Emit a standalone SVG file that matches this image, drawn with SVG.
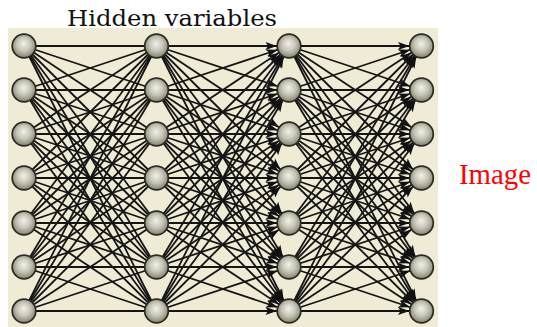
<svg xmlns="http://www.w3.org/2000/svg" width="537" height="327" viewBox="0 0 537 327">
<style>
.bg{fill:#efebd5}
.e{stroke:#151515;stroke-width:1.8;fill:none}
.a{marker-end:url(#arr)}
.n{fill:url(#ball);stroke:#2a2a26;stroke-width:1.7}
.t{font-family:"DejaVu Serif","Liberation Serif",serif}
.r{font-family:"Liberation Serif","DejaVu Serif",serif}
</style>
<defs>
<radialGradient id="ball" cx="50%" cy="45%" r="55%" fx="48%" fy="40%">
<stop offset="0" stop-color="#f2f1ea"/>
<stop offset="0.5" stop-color="#c9c7b8"/>
<stop offset="1" stop-color="#85826f"/>
</radialGradient>
<marker id="arr" markerUnits="userSpaceOnUse" markerWidth="24" markerHeight="8" refX="23.5" refY="4" orient="auto" overflow="visible">
<path d="M0,0 L11.5,4 L0,8 L2.5,4 z" fill="#111"/>
</marker>
</defs>
<rect class="bg" x="8" y="28" width="430" height="299"/>
<text class="t" x="67" y="26" font-size="23" textLength="210" lengthAdjust="spacingAndGlyphs" fill="#111">Hidden variables</text>
<text class="r" x="459" y="184" font-size="29" textLength="72" lengthAdjust="spacingAndGlyphs" fill="#ff0000">Image</text>
<g id="connectors">
<g id="layer1" class="e">
<line x1="24" y1="46" x2="156.5" y2="46"/><line x1="24" y1="46" x2="156.5" y2="90"/><line x1="24" y1="46" x2="156.5" y2="134"/><line x1="24" y1="46" x2="156.5" y2="178"/><line x1="24" y1="46" x2="156.5" y2="223"/><line x1="24" y1="46" x2="156.5" y2="267"/><line x1="24" y1="46" x2="156.5" y2="311"/>
<line x1="24" y1="90" x2="156.5" y2="46"/><line x1="24" y1="90" x2="156.5" y2="90"/><line x1="24" y1="90" x2="156.5" y2="134"/><line x1="24" y1="90" x2="156.5" y2="178"/><line x1="24" y1="90" x2="156.5" y2="223"/><line x1="24" y1="90" x2="156.5" y2="267"/><line x1="24" y1="90" x2="156.5" y2="311"/>
<line x1="24" y1="134" x2="156.5" y2="46"/><line x1="24" y1="134" x2="156.5" y2="90"/><line x1="24" y1="134" x2="156.5" y2="134"/><line x1="24" y1="134" x2="156.5" y2="178"/><line x1="24" y1="134" x2="156.5" y2="223"/><line x1="24" y1="134" x2="156.5" y2="267"/><line x1="24" y1="134" x2="156.5" y2="311"/>
<line x1="24" y1="178" x2="156.5" y2="46"/><line x1="24" y1="178" x2="156.5" y2="90"/><line x1="24" y1="178" x2="156.5" y2="134"/><line x1="24" y1="178" x2="156.5" y2="178"/><line x1="24" y1="178" x2="156.5" y2="223"/><line x1="24" y1="178" x2="156.5" y2="267"/><line x1="24" y1="178" x2="156.5" y2="311"/>
<line x1="24" y1="223" x2="156.5" y2="46"/><line x1="24" y1="223" x2="156.5" y2="90"/><line x1="24" y1="223" x2="156.5" y2="134"/><line x1="24" y1="223" x2="156.5" y2="178"/><line x1="24" y1="223" x2="156.5" y2="223"/><line x1="24" y1="223" x2="156.5" y2="267"/><line x1="24" y1="223" x2="156.5" y2="311"/>
<line x1="24" y1="267" x2="156.5" y2="46"/><line x1="24" y1="267" x2="156.5" y2="90"/><line x1="24" y1="267" x2="156.5" y2="134"/><line x1="24" y1="267" x2="156.5" y2="178"/><line x1="24" y1="267" x2="156.5" y2="223"/><line x1="24" y1="267" x2="156.5" y2="267"/><line x1="24" y1="267" x2="156.5" y2="311"/>
<line x1="24" y1="311" x2="156.5" y2="46"/><line x1="24" y1="311" x2="156.5" y2="90"/><line x1="24" y1="311" x2="156.5" y2="134"/><line x1="24" y1="311" x2="156.5" y2="178"/><line x1="24" y1="311" x2="156.5" y2="223"/><line x1="24" y1="311" x2="156.5" y2="267"/><line x1="24" y1="311" x2="156.5" y2="311"/>
</g>
<g id="layer2" class="e">
<line class="a" x1="156.5" y1="46" x2="289" y2="46"/><line class="a" x1="156.5" y1="46" x2="289" y2="90"/><line class="a" x1="156.5" y1="46" x2="289" y2="134"/><line class="a" x1="156.5" y1="46" x2="289" y2="178"/><line class="a" x1="156.5" y1="46" x2="289" y2="223"/><line class="a" x1="156.5" y1="46" x2="289" y2="267"/><line class="a" x1="156.5" y1="46" x2="289" y2="311"/>
<line class="a" x1="156.5" y1="90" x2="289" y2="46"/><line class="a" x1="156.5" y1="90" x2="289" y2="90"/><line class="a" x1="156.5" y1="90" x2="289" y2="134"/><line class="a" x1="156.5" y1="90" x2="289" y2="178"/><line class="a" x1="156.5" y1="90" x2="289" y2="223"/><line class="a" x1="156.5" y1="90" x2="289" y2="267"/><line class="a" x1="156.5" y1="90" x2="289" y2="311"/>
<line class="a" x1="156.5" y1="134" x2="289" y2="46"/><line class="a" x1="156.5" y1="134" x2="289" y2="90"/><line class="a" x1="156.5" y1="134" x2="289" y2="134"/><line class="a" x1="156.5" y1="134" x2="289" y2="178"/><line class="a" x1="156.5" y1="134" x2="289" y2="223"/><line class="a" x1="156.5" y1="134" x2="289" y2="267"/><line class="a" x1="156.5" y1="134" x2="289" y2="311"/>
<line class="a" x1="156.5" y1="178" x2="289" y2="46"/><line class="a" x1="156.5" y1="178" x2="289" y2="90"/><line class="a" x1="156.5" y1="178" x2="289" y2="134"/><line class="a" x1="156.5" y1="178" x2="289" y2="178"/><line class="a" x1="156.5" y1="178" x2="289" y2="223"/><line class="a" x1="156.5" y1="178" x2="289" y2="267"/><line class="a" x1="156.5" y1="178" x2="289" y2="311"/>
<line class="a" x1="156.5" y1="223" x2="289" y2="46"/><line class="a" x1="156.5" y1="223" x2="289" y2="90"/><line class="a" x1="156.5" y1="223" x2="289" y2="134"/><line class="a" x1="156.5" y1="223" x2="289" y2="178"/><line class="a" x1="156.5" y1="223" x2="289" y2="223"/><line class="a" x1="156.5" y1="223" x2="289" y2="267"/><line class="a" x1="156.5" y1="223" x2="289" y2="311"/>
<line class="a" x1="156.5" y1="267" x2="289" y2="46"/><line class="a" x1="156.5" y1="267" x2="289" y2="90"/><line class="a" x1="156.5" y1="267" x2="289" y2="134"/><line class="a" x1="156.5" y1="267" x2="289" y2="178"/><line class="a" x1="156.5" y1="267" x2="289" y2="223"/><line class="a" x1="156.5" y1="267" x2="289" y2="267"/><line class="a" x1="156.5" y1="267" x2="289" y2="311"/>
<line class="a" x1="156.5" y1="311" x2="289" y2="46"/><line class="a" x1="156.5" y1="311" x2="289" y2="90"/><line class="a" x1="156.5" y1="311" x2="289" y2="134"/><line class="a" x1="156.5" y1="311" x2="289" y2="178"/><line class="a" x1="156.5" y1="311" x2="289" y2="223"/><line class="a" x1="156.5" y1="311" x2="289" y2="267"/><line class="a" x1="156.5" y1="311" x2="289" y2="311"/>
</g>
<g id="layer3" class="e">
<line class="a" x1="289" y1="46" x2="421.5" y2="46"/><line class="a" x1="289" y1="46" x2="421.5" y2="90"/><line class="a" x1="289" y1="46" x2="421.5" y2="134"/><line class="a" x1="289" y1="46" x2="421.5" y2="178"/><line class="a" x1="289" y1="46" x2="421.5" y2="223"/><line class="a" x1="289" y1="46" x2="421.5" y2="267"/><line class="a" x1="289" y1="46" x2="421.5" y2="311"/>
<line class="a" x1="289" y1="90" x2="421.5" y2="46"/><line class="a" x1="289" y1="90" x2="421.5" y2="90"/><line class="a" x1="289" y1="90" x2="421.5" y2="134"/><line class="a" x1="289" y1="90" x2="421.5" y2="178"/><line class="a" x1="289" y1="90" x2="421.5" y2="223"/><line class="a" x1="289" y1="90" x2="421.5" y2="267"/><line class="a" x1="289" y1="90" x2="421.5" y2="311"/>
<line class="a" x1="289" y1="134" x2="421.5" y2="46"/><line class="a" x1="289" y1="134" x2="421.5" y2="90"/><line class="a" x1="289" y1="134" x2="421.5" y2="134"/><line class="a" x1="289" y1="134" x2="421.5" y2="178"/><line class="a" x1="289" y1="134" x2="421.5" y2="223"/><line class="a" x1="289" y1="134" x2="421.5" y2="267"/><line class="a" x1="289" y1="134" x2="421.5" y2="311"/>
<line class="a" x1="289" y1="178" x2="421.5" y2="46"/><line class="a" x1="289" y1="178" x2="421.5" y2="90"/><line class="a" x1="289" y1="178" x2="421.5" y2="134"/><line class="a" x1="289" y1="178" x2="421.5" y2="178"/><line class="a" x1="289" y1="178" x2="421.5" y2="223"/><line class="a" x1="289" y1="178" x2="421.5" y2="267"/><line class="a" x1="289" y1="178" x2="421.5" y2="311"/>
<line class="a" x1="289" y1="223" x2="421.5" y2="46"/><line class="a" x1="289" y1="223" x2="421.5" y2="90"/><line class="a" x1="289" y1="223" x2="421.5" y2="134"/><line class="a" x1="289" y1="223" x2="421.5" y2="178"/><line class="a" x1="289" y1="223" x2="421.5" y2="223"/><line class="a" x1="289" y1="223" x2="421.5" y2="267"/><line class="a" x1="289" y1="223" x2="421.5" y2="311"/>
<line class="a" x1="289" y1="267" x2="421.5" y2="46"/><line class="a" x1="289" y1="267" x2="421.5" y2="90"/><line class="a" x1="289" y1="267" x2="421.5" y2="134"/><line class="a" x1="289" y1="267" x2="421.5" y2="178"/><line class="a" x1="289" y1="267" x2="421.5" y2="223"/><line class="a" x1="289" y1="267" x2="421.5" y2="267"/><line class="a" x1="289" y1="267" x2="421.5" y2="311"/>
<line class="a" x1="289" y1="311" x2="421.5" y2="46"/><line class="a" x1="289" y1="311" x2="421.5" y2="90"/><line class="a" x1="289" y1="311" x2="421.5" y2="134"/><line class="a" x1="289" y1="311" x2="421.5" y2="178"/><line class="a" x1="289" y1="311" x2="421.5" y2="223"/><line class="a" x1="289" y1="311" x2="421.5" y2="267"/><line class="a" x1="289" y1="311" x2="421.5" y2="311"/>
</g>
</g>
<g id="nodes">
<g id="v1"><circle class="n" cx="24" cy="46" r="11.8"/></g>
<g id="v2"><circle class="n" cx="24" cy="90" r="11.8"/></g>
<g id="v3"><circle class="n" cx="24" cy="134" r="11.8"/></g>
<g id="v4"><circle class="n" cx="24" cy="178" r="11.8"/></g>
<g id="v5"><circle class="n" cx="24" cy="223" r="11.8"/></g>
<g id="v6"><circle class="n" cx="24" cy="267" r="11.8"/></g>
<g id="v7"><circle class="n" cx="24" cy="311" r="11.8"/></g>
<g id="h1"><circle class="n" cx="156.5" cy="46" r="11.8"/></g>
<g id="h2"><circle class="n" cx="156.5" cy="90" r="11.8"/></g>
<g id="h3"><circle class="n" cx="156.5" cy="134" r="11.8"/></g>
<g id="h4"><circle class="n" cx="156.5" cy="178" r="11.8"/></g>
<g id="h5"><circle class="n" cx="156.5" cy="223" r="11.8"/></g>
<g id="h6"><circle class="n" cx="156.5" cy="267" r="11.8"/></g>
<g id="h7"><circle class="n" cx="156.5" cy="311" r="11.8"/></g>
<g id="u1"><circle class="n" cx="289" cy="46" r="11.8"/></g>
<g id="u2"><circle class="n" cx="289" cy="90" r="11.8"/></g>
<g id="u3"><circle class="n" cx="289" cy="134" r="11.8"/></g>
<g id="u4"><circle class="n" cx="289" cy="178" r="11.8"/></g>
<g id="u5"><circle class="n" cx="289" cy="223" r="11.8"/></g>
<g id="u6"><circle class="n" cx="289" cy="267" r="11.8"/></g>
<g id="u7"><circle class="n" cx="289" cy="311" r="11.8"/></g>
<g id="i1"><circle class="n" cx="421.5" cy="46" r="11.8"/></g>
<g id="i2"><circle class="n" cx="421.5" cy="90" r="11.8"/></g>
<g id="i3"><circle class="n" cx="421.5" cy="134" r="11.8"/></g>
<g id="i4"><circle class="n" cx="421.5" cy="178" r="11.8"/></g>
<g id="i5"><circle class="n" cx="421.5" cy="223" r="11.8"/></g>
<g id="i6"><circle class="n" cx="421.5" cy="267" r="11.8"/></g>
<g id="i7"><circle class="n" cx="421.5" cy="311" r="11.8"/></g>
</g>
</svg>
